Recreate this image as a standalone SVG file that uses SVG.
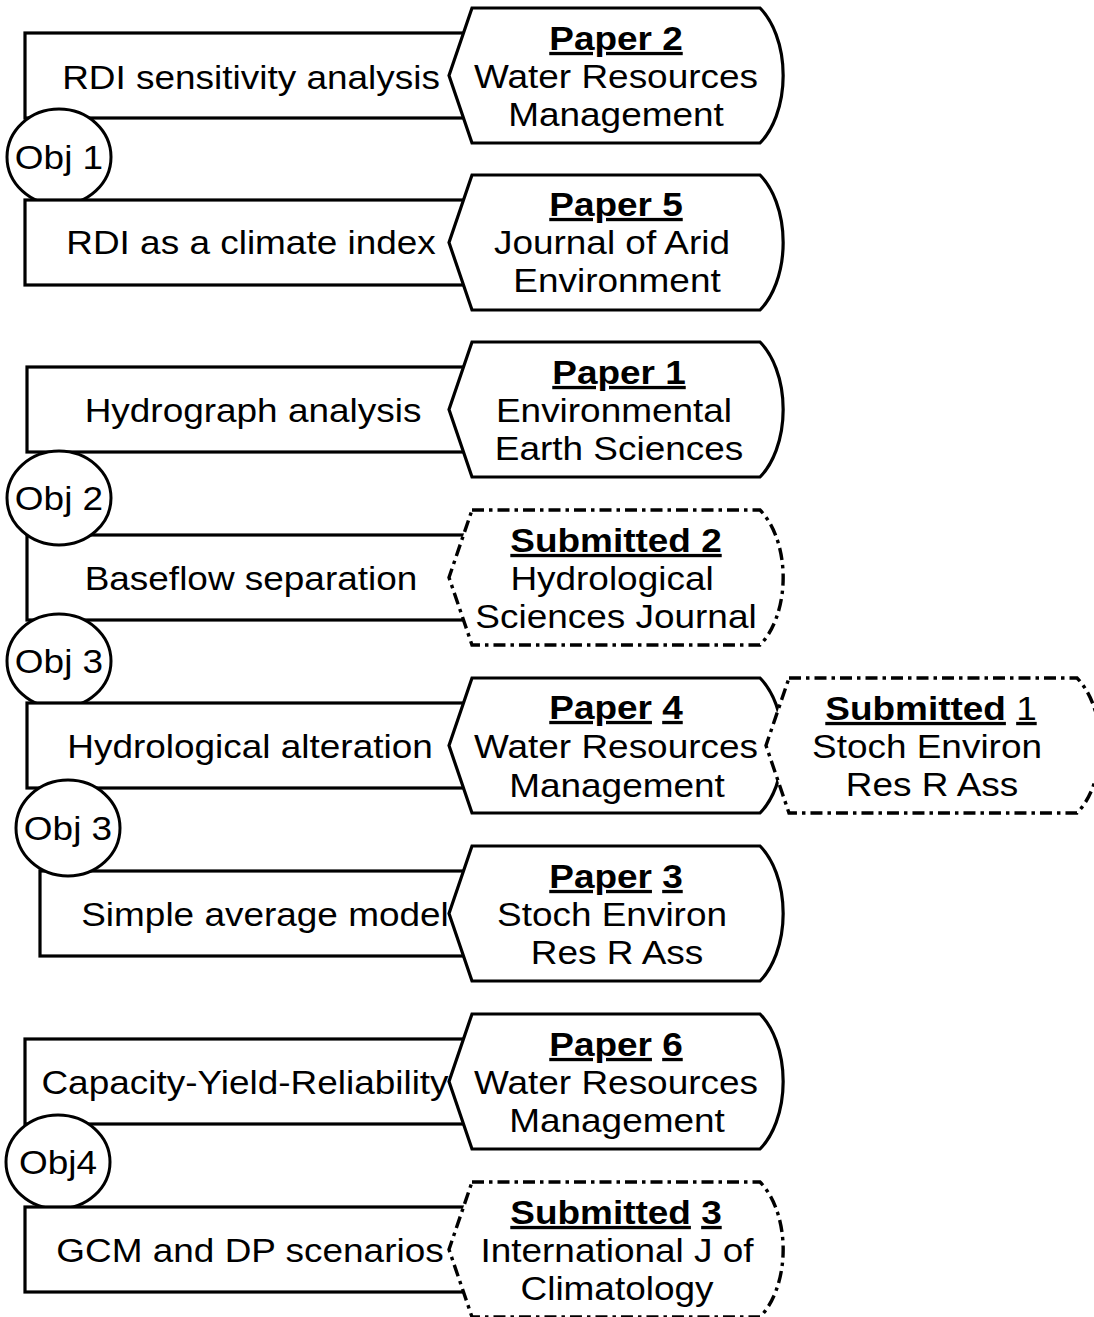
<svg xmlns="http://www.w3.org/2000/svg" width="1094" height="1317" viewBox="0 0 1094 1317">
<defs>
<style>
.bg{fill:#fff}
.box{fill:#fff;stroke:#000;stroke-width:3.2}
.obj{fill:#fff;stroke:#000;stroke-width:3}
.pub{fill:#fff;stroke:#000;stroke-width:3.2;stroke-linejoin:miter}
.sub{fill:#fff;stroke:#000;stroke-width:3.4;stroke-dasharray:12 5 3.5 5}
text{font-family:"Liberation Sans",Arial,sans-serif;font-size:33px;fill:#000;text-anchor:middle}
.b{font-weight:bold}
.u{text-decoration:underline}
.n{font-weight:normal}
</style>
</defs>
<rect class="bg" x="0" y="0" width="1094" height="1317"/>

<g id="connectors">
<rect id="bar-rdi-sens" class="box" x="25" y="33" width="455" height="85"/>
<g id="obj1"><ellipse class="obj" cx="59" cy="157" rx="52" ry="48"/><text transform="translate(59 169) scale(1.12 1)">Obj 1</text></g>
<rect id="bar-rdi-climate" class="box" x="25" y="200" width="455" height="85"/>

<rect id="bar-hydrograph" class="box" x="27" y="367" width="453" height="85"/>
<rect id="bar-baseflow" class="box" x="27" y="535" width="453" height="85"/>
<g id="obj2"><ellipse class="obj" cx="59" cy="498" rx="52" ry="47"/><text transform="translate(59 510) scale(1.12 1)">Obj 2</text></g>
<g id="obj3a"><ellipse class="obj" cx="59" cy="661" rx="52" ry="47"/><text transform="translate(59 673) scale(1.12 1)">Obj 3</text></g>
<rect id="bar-alteration" class="box" x="27" y="703" width="453" height="85"/>
<rect id="bar-simple" class="box" x="40" y="871" width="440" height="85"/>
<g id="obj3b"><ellipse class="obj" cx="68" cy="828" rx="52" ry="48"/><text transform="translate(68 840) scale(1.12 1)">Obj 3</text></g>

<rect id="bar-cyr" class="box" x="25" y="1039" width="455" height="85"/>
<g id="obj4"><ellipse class="obj" cx="58" cy="1162" rx="52" ry="47"/><text transform="translate(58 1174) scale(1.12 1)">Obj4</text></g>
<rect id="bar-gcm" class="box" x="25" y="1207" width="455" height="85"/>
</g>

<g id="labels">
<text transform="translate(251 89) scale(1.12 1)">RDI sensitivity analysis</text>
<text transform="translate(251 254) scale(1.12 1)">RDI as a climate index</text>
<text transform="translate(253 422) scale(1.12 1)">Hydrograph analysis</text>
<text transform="translate(251 590) scale(1.12 1)">Baseflow separation</text>
<text transform="translate(250 758) scale(1.12 1)">Hydrological alteration</text>
<text transform="translate(265 926) scale(1.12 1)">Simple average model</text>
<text transform="translate(245 1094) scale(1.12 1)">Capacity-Yield-Reliability</text>
<text transform="translate(250 1262) scale(1.12 1)">GCM and DP scenarios</text>
</g>

<g id="paper2">
<path class="pub" d="M472 8 L760 8 A50 80 0 0 1 760 143 L472 143 L449 75.5 Z"/>
<text transform="translate(616 50) scale(1.12 1)" class="b u">Paper 2</text>
<text transform="translate(616 88) scale(1.12 1)">Water Resources</text>
<text transform="translate(616 126) scale(1.12 1)">Management</text>
</g>
<g id="paper5">
<path class="pub" d="M472 175 L760 175 A50 80 0 0 1 760 310 L472 310 L449 242.5 Z"/>
<text transform="translate(616 216) scale(1.12 1)" class="b u">Paper 5</text>
<text transform="translate(612 254) scale(1.12 1)">Journal of Arid</text>
<text transform="translate(617 292) scale(1.12 1)">Environment</text>
</g>
<g id="paper1">
<path class="pub" d="M472 342 L760 342 A50 80 0 0 1 760 477 L472 477 L449 409.5 Z"/>
<text transform="translate(619 384) scale(1.12 1)" class="b u">Paper 1</text>
<text transform="translate(614 422) scale(1.12 1)">Environmental</text>
<text transform="translate(619 460) scale(1.12 1)">Earth Sciences</text>
</g>
<g id="submitted2">
<path class="sub" d="M472 510 L760 510 A50 80 0 0 1 760 645 L472 645 L449 577.5 Z"/>
<text transform="translate(616 552) scale(1.12 1)" class="b u">Submitted 2</text>
<text transform="translate(612 590) scale(1.12 1)">Hydrological</text>
<text transform="translate(616 628) scale(1.12 1)">Sciences Journal</text>
</g>
<g id="paper4">
<path class="pub" d="M472 678 L760 678 A50 80 0 0 1 760 813 L472 813 L449 745.5 Z"/>
<text transform="translate(616 719) scale(1.12 1)" class="b"><tspan class="u">Paper</tspan> <tspan class="u">4</tspan></text>
<text transform="translate(616 758) scale(1.12 1)">Water Resources</text>
<text transform="translate(617 797) scale(1.12 1)">Management</text>
</g>
<g id="submitted1">
<path class="sub" d="M789 678 L1077 678 A50 80 0 0 1 1077 813 L789 813 L766 745.5 Z"/>
<text transform="translate(931 720) scale(1.12 1)" class="b"><tspan class="u">Submitted</tspan> <tspan class="u n">1</tspan></text>
<text transform="translate(927 758) scale(1.12 1)">Stoch Environ</text>
<text transform="translate(932 796) scale(1.12 1)">Res R Ass</text>
</g>
<g id="paper3">
<path class="pub" d="M472 846 L760 846 A50 80 0 0 1 760 981 L472 981 L449 913.5 Z"/>
<text transform="translate(616 888) scale(1.12 1)" class="b"><tspan class="u">Paper</tspan> <tspan class="u">3</tspan></text>
<text transform="translate(612 926) scale(1.12 1)">Stoch Environ</text>
<text transform="translate(617 964) scale(1.12 1)">Res R Ass</text>
</g>
<g id="paper6">
<path class="pub" d="M472 1014 L760 1014 A50 80 0 0 1 760 1149 L472 1149 L449 1081.5 Z"/>
<text transform="translate(616 1056) scale(1.12 1)" class="b"><tspan class="u">Paper</tspan> <tspan class="u">6</tspan></text>
<text transform="translate(616 1094) scale(1.12 1)">Water Resources</text>
<text transform="translate(617 1132) scale(1.12 1)">Management</text>
</g>
<g id="submitted3">
<path class="sub" d="M472 1182 L760 1182 A50 80 0 0 1 760 1317 L472 1317 L449 1249.5 Z"/>
<text transform="translate(616 1224) scale(1.12 1)" class="b"><tspan class="u">Submitted</tspan> <tspan class="u">3</tspan></text>
<text transform="translate(617 1262) scale(1.12 1)">International J of</text>
<text transform="translate(617 1300) scale(1.12 1)">Climatology</text>
</g>
</svg>
